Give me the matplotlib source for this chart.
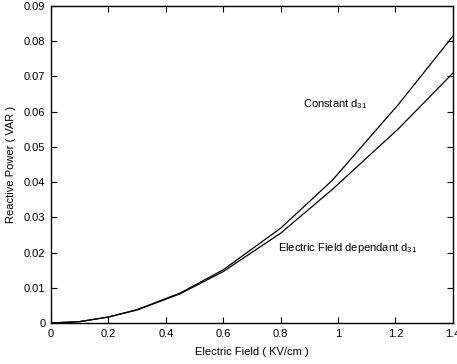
import matplotlib
matplotlib.use("Agg")
import matplotlib.pyplot as plt

plt.rcParams['font.family'] = ['Liberation Sans', 'DejaVu Sans']
plt.rcParams['mathtext.fontset'] = 'custom'
plt.rcParams['mathtext.rm'] = 'Liberation Sans'
plt.rcParams['mathtext.it'] = 'Liberation Sans'
plt.rcParams['font.size'] = 8

# electric field (KV/cm)
field = [0, 0.1, 0.2, 0.3, 0.45, 0.6, 0.8, 0.98, 1.21, 1.4]
# reactive power (VAR)
p_constant = [0, 0.0004, 0.0017, 0.0038, 0.0085, 0.0151, 0.0269, 0.0405, 0.0620, 0.0814]
p_dependant = [0, 0.0004, 0.0017, 0.0037, 0.0083, 0.0146, 0.0255, 0.0379, 0.0551, 0.0709]

xticks = [0, 0.2, 0.4, 0.6, 0.8, 1.0, 1.2, 1.4]
xticklabels = ['0', '0.2', '0.4', '0.6', '0.8', '1', '1.2', '1.4']
yticks = [0, 0.01, 0.02, 0.03, 0.04, 0.05, 0.06, 0.07, 0.08, 0.09]
yticklabels = ['0', '0.01', '0.02', '0.03', '0.04', '0.05', '0.06', '0.07', '0.08', '0.09']

fig = plt.figure(figsize=(4.57, 3.64), dpi=100)
ax = fig.add_axes([0.1116, 0.1126, 0.8794, 0.8714])

ax.plot(field, p_constant, color='black', linewidth=0.9)
ax.plot(field, p_dependant, color='black', linewidth=0.9)

ax.set_xlim(0, 1.4)
ax.set_ylim(0, 0.09)
ax.set_xticks(xticks)
ax.set_xticklabels(xticklabels)
ax.set_yticks(yticks)
ax.set_yticklabels(yticklabels)
ax.tick_params(direction='in', length=4, width=0.8, top=True, right=True, pad=4)
for s in ax.spines.values():
    s.set_linewidth(1.0)

ax.text(0.878, 0.0611, r'Constant d$_{31}$', fontsize=8, va='baseline')
ax.text(0.79, 0.0205, r'Electric Field dependant d$_{31}$', fontsize=8, va='baseline')

ax.set_xlabel('Electric Field ( KV/cm )', fontsize=8, labelpad=6)
ax.set_ylabel('Reactive Power ( VAR )', fontsize=8, labelpad=6)

fig.savefig('out.png', dpi=100)
